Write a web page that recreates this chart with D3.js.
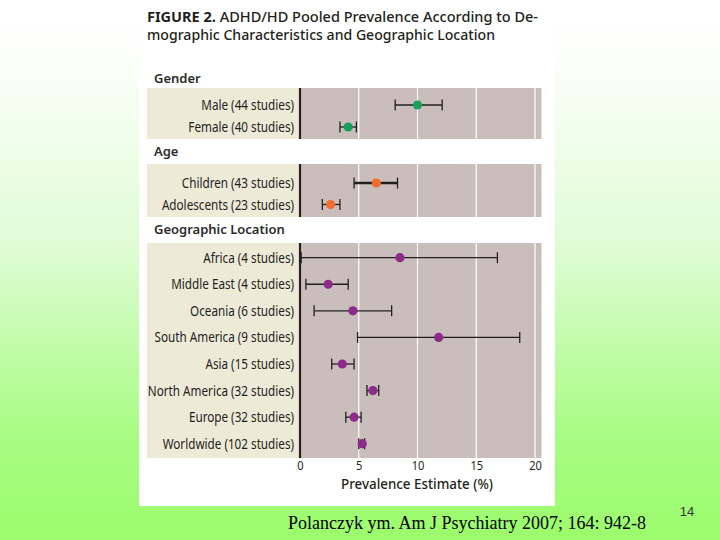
<!DOCTYPE html>
<html lang="en">
<head>
<meta charset="UTF-8">
<title>ADHD/HD Pooled Prevalence</title>
<script src="https://cdnjs.cloudflare.com/ajax/libs/d3/7.8.5/d3.min.js"></script>
<style>
  body { margin: 0; width: 720px; height: 540px; overflow: hidden; }
  svg { display: block; }
  .lbl { font-family: "Noto Sans", sans-serif; font-size: 14px; fill: #231f20; }
  .head { font-family: "Noto Sans", sans-serif; font-weight: 600; font-size: 13px; fill: #2b2b2b; }
</style>
</head>
<body>
<svg id="chart" width="720" height="540"></svg>
<script>
// Gender
const genderLabels = ["Male (44 studies)", "Female (40 studies)"];
const genderEst = [10.0, 4.1];
const genderLow = [8.1, 3.4];
const genderHigh = [12.1, 4.8];

// Age
const ageLabels = ["Children (43 studies)", "Adolescents (23 studies)"];
const ageEst = [6.5, 2.6];
const ageLow = [4.6, 1.9];
const ageHigh = [8.3, 3.4];

// Geographic location
const geoLabels = ["Africa (4 studies)", "Middle East (4 studies)", "Oceania (6 studies)",
  "South America (9 studies)", "Asia (15 studies)", "North America (32 studies)",
  "Europe (32 studies)", "Worldwide (102 studies)"];
const geoEst = [8.5, 2.4, 4.5, 11.8, 3.6, 6.2, 4.6, 5.3];
const geoLow = [0.1, 0.5, 1.2, 4.9, 2.7, 5.7, 3.9, 5.0];
const geoHigh = [16.8, 4.1, 7.8, 18.7, 4.6, 6.7, 5.2, 5.5];

const xTicks = [0, 5, 10, 15, 20];

const svg = d3.select("#chart");

// squeeze text horizontally to mimic the condensed journal face
function condense(sel, k) {
  sel.each(function () {
    const w = this.getComputedTextLength();
    d3.select(this).attr("textLength", w * k).attr("lengthAdjust", "spacingAndGlyphs");
  });
}

// slide background
const defs = svg.append("defs");
const grad = defs.append("linearGradient").attr("id", "bg").attr("x1", 0).attr("y1", 0).attr("x2", 0).attr("y2", 1);
grad.append("stop").attr("offset", "0%").attr("stop-color", "#ffffff");
grad.append("stop").attr("offset", "8%").attr("stop-color", "#fefffd");
grad.append("stop").attr("offset", "45%").attr("stop-color", "#e0fcd6");
grad.append("stop").attr("offset", "80%").attr("stop-color", "#a8fc84");
grad.append("stop").attr("offset", "100%").attr("stop-color", "#9cfc6c");
svg.append("rect").attr("width", 720).attr("height", 540).attr("fill", "url(#bg)");

// figure card
svg.append("rect").attr("x", 139).attr("y", 0).attr("width", 416).attr("height", 506).attr("fill", "#ffffff");

const t1 = svg.append("text").attr("x", 147).attr("y", 22)
  .attr("font-family", "Noto Sans, sans-serif").attr("font-size", 14.5).attr("fill", "#231f20")
  .attr("textLength", 391).attr("lengthAdjust", "spacingAndGlyphs");
t1.append("tspan").attr("font-weight", 700).text("FIGURE 2. ");
t1.append("tspan").attr("font-weight", 500).text("ADHD/HD Pooled Prevalence According to De-");
svg.append("text").attr("x", 147).attr("y", 40)
  .attr("font-family", "Noto Sans, sans-serif").attr("font-size", 14.5).attr("font-weight", 500)
  .attr("fill", "#231f20").attr("textLength", 348).attr("lengthAdjust", "spacingAndGlyphs")
  .text("mographic Characteristics and Geographic Location");

const x = d3.scaleLinear().domain([0, 20]).range([300, 535]);
const xMax = 20.55;
const labelLeft = 147;

const panels = [
  { name: "Gender", labels: genderLabels, est: genderEst, low: genderLow, high: genderHigh,
    color: "#17a05a", headY: 83, top: 88, bottom: 139, rows: [105, 127] },
  { name: "Age", labels: ageLabels, est: ageEst, low: ageLow, high: ageHigh,
    color: "#f26b2c", headY: 156, top: 164, bottom: 217, rows: [183, 204.5] },
  { name: "Geographic Location", labels: geoLabels, est: geoEst, low: geoLow, high: geoHigh,
    color: "#8d2b8b", headY: 234, top: 243, bottom: 458, rows: [257.7, 443.7] }
];

panels.forEach((p, pi) => {
  const g = svg.append("g");
  const y = d3.scalePoint().domain(p.labels).range(p.rows);

  g.append("text").attr("class", "head").attr("x", 154).attr("y", p.headY).text(p.name);

  g.append("rect").attr("x", labelLeft).attr("y", p.top)
    .attr("width", x(0) - labelLeft).attr("height", p.bottom - p.top).attr("fill", "#eeead8");
  g.append("rect").attr("x", x(0)).attr("y", p.top)
    .attr("width", x(xMax) - x(0)).attr("height", p.bottom - p.top).attr("fill", "#c9bebb");

  g.selectAll("line.grid").data(xTicks.slice(1)).join("line")
    .attr("x1", d => x(d)).attr("x2", d => x(d))
    .attr("y1", p.top).attr("y2", p.bottom)
    .attr("stroke", "#ffffff").attr("stroke-width", 1.2);

  g.append("line").attr("x1", x(0)).attr("x2", x(0)).attr("y1", p.top).attr("y2", p.bottom)
    .attr("stroke", "#2a2020").attr("stroke-width", 2.2);

  g.selectAll("text.lbl").data(p.labels).join("text")
    .attr("class", "lbl").attr("x", 294).attr("y", d => y(d) + 5)
    .attr("text-anchor", "end").text(d => d)
    .call(condense, 0.835);

  const rows = p.labels.map((l, i) => ({ l, est: p.est[i], lo: p.low[i], hi: p.high[i] }));
  const rg = g.selectAll("g.row").data(rows).join("g");
  rg.append("line").attr("x1", d => x(d.lo)).attr("x2", d => x(d.hi))
    .attr("y1", d => y(d.l)).attr("y2", d => y(d.l))
    .attr("stroke", "#231f20").attr("stroke-width", (d, i) => pi === 1 && i === 0 ? 2.6 : 1.3);
  rg.append("line").attr("x1", d => x(d.lo)).attr("x2", d => x(d.lo))
    .attr("y1", d => y(d.l) - 5.5).attr("y2", d => y(d.l) + 5.5)
    .attr("stroke", "#231f20").attr("stroke-width", 1.3);
  rg.append("line").attr("x1", d => x(d.hi)).attr("x2", d => x(d.hi))
    .attr("y1", d => y(d.l) - 5.5).attr("y2", d => y(d.l) + 5.5)
    .attr("stroke", "#231f20").attr("stroke-width", 1.3);
  rg.append("circle").attr("cx", d => x(d.est)).attr("cy", d => y(d.l)).attr("r", 4.6)
    .attr("fill", p.color);
});

// x axis (labels only, no domain or tick marks)
const axis = svg.append("g").attr("transform", "translate(0,458)")
  .call(d3.axisBottom(x).tickValues(xTicks).tickSize(0).tickPadding(3).tickFormat(d3.format("d")));
axis.select(".domain").remove();
axis.selectAll("text").attr("font-family", "Noto Sans, sans-serif")
  .attr("font-size", 13).attr("fill", "#231f20").call(condense, 0.85);

svg.append("text").attr("x", 417).attr("y", 489).attr("text-anchor", "middle")
  .attr("font-family", "Noto Sans, sans-serif").attr("font-weight", 500).attr("font-size", 13.5)
  .attr("fill", "#231f20").attr("textLength", 152).attr("lengthAdjust", "spacingAndGlyphs")
  .text("Prevalence Estimate (%)");

// slide footer
svg.append("text").attr("x", 467).attr("y", 529).attr("text-anchor", "middle")
  .attr("font-family", "Liberation Serif, serif").attr("font-size", 18).attr("fill", "#000")
  .text("Polanczyk ym. Am J Psychiatry 2007; 164: 942-8");
svg.append("text").attr("x", 687).attr("y", 516).attr("text-anchor", "middle")
  .attr("font-family", "Liberation Sans, Arial, sans-serif").attr("font-size", 13).attr("fill", "#333")
  .text("14");
</script>
</body>
</html>
